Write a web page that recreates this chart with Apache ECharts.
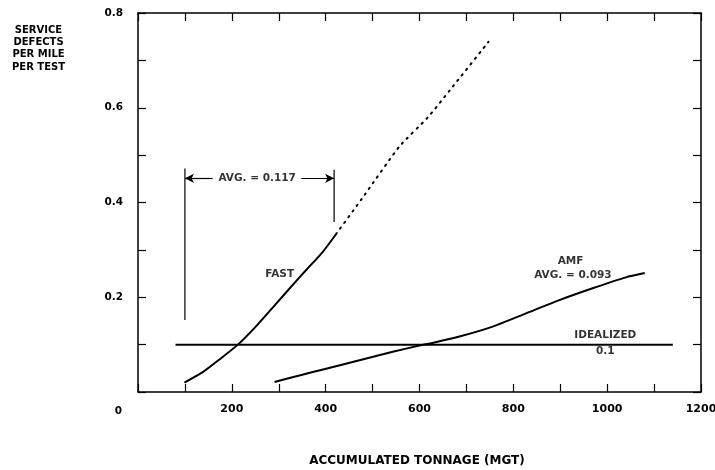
<!DOCTYPE html>
<html>
<head>
<meta charset="utf-8">
<script src="https://cdn.jsdelivr.net/npm/echarts@6/dist/echarts.min.js"></script>
<style>html,body{margin:0;padding:0;background:#fff}#c{width:715px;height:470px}</style>
</head>
<body>
<div id="c"></div>
<script>
// ---- data ----
const fastTonnage = [99, 138, 174, 213, 252, 295, 337, 359, 394, 422];
const fastDefects = [0.020, 0.042, 0.069, 0.100, 0.139, 0.187, 0.234, 0.258, 0.296, 0.333];
const fastProjTonnage = [422, 483, 557, 618, 664, 747];
const fastProjDefects = [0.333, 0.416, 0.518, 0.580, 0.636, 0.739];
const amfTonnage = [291, 344, 401, 472, 543, 600, 634, 685, 756, 827, 898, 969, 1040, 1080];
const amfDefects = [0.021, 0.035, 0.049, 0.067, 0.085, 0.098, 0.105, 0.117, 0.138, 0.166, 0.194, 0.219, 0.242, 0.251];
const idealTonnage = [80, 1140];
const idealDefects = [0.1, 0.1];
const bracketLeftX = [100, 100];
const bracketLeftY = [0.152, 0.472];
const bracketRightX = [418, 418];
const bracketRightY = [0.359, 0.469];
const arrowY = 0.451;
const arrowLeftX = [159, 100];
const arrowRightX = [348, 418];
const noteTexts = ['AVG. = 0.117', 'FAST', 'AMF', 'AVG. = 0.093', 'IDEALIZED', '0.1'];
const noteX = [254, 302, 922, 927, 996, 996];
const noteY = [0.451, 0.248, 0.276, 0.247, 0.119, 0.086];
const xTickLabels = ['200', '400', '600', '800', '1000', '1200'];
const yTickLabels = ['0.2', '0.4', '0.6', '0.8'];
const yTitle = 'SERVICE\nDEFECTS\nPER MILE\nPER TEST';
const xTitle = 'ACCUMULATED TONNAGE (MGT)';

const FONT = 'DejaVu Sans';
const zip = (a, b) => a.map((v, i) => [v, b[i]]);
const black = '#000';

const chart = echarts.init(document.getElementById('c'), null, {renderer: 'canvas'});
const axisCommon = () => ({
  axisLine: {show: true, onZero: false, lineStyle: {color: black, width: 1.5}},
  axisTick: {show: true, inside: true, length: 8, lineStyle: {color: black, width: 1.2}},
  splitLine: {show: false}
});
chart.setOption({
  animation: false,
  backgroundColor: '#fff',
  grid: {left: 138, right: 14, top: 13, bottom: 78, containLabel: false, outerBoundsMode: 'none'},
  xAxis: [
    Object.assign({
      type: 'value', min: 0, max: 1200, interval: 100, position: 'bottom',
      axisLabel: {
        margin: 12, fontFamily: FONT, fontWeight: 'bold', fontSize: 11, color: black,
        formatter: v => xTickLabels.includes(String(v)) ? String(v) : ''
      }
    }, axisCommon()),
    Object.assign({
      type: 'value', min: 0, max: 1200, interval: 100, position: 'top',
      axisLabel: {show: false}
    }, axisCommon())
  ],
  yAxis: [
    Object.assign({
      type: 'value', min: 0, max: 0.8, interval: 0.1, position: 'left',
      axisLabel: {
        margin: 15, fontFamily: FONT, fontWeight: 'bold', fontSize: 10.5, color: black,
        formatter: v => { const s = v.toFixed(1); return yTickLabels.includes(s) ? s : ''; }
      }
    }, axisCommon()),
    Object.assign({
      type: 'value', min: 0, max: 0.8, interval: 0.1, position: 'right',
      axisLabel: {show: false}
    }, axisCommon())
  ],
  graphic: [
    {type: 'text', left: 12, top: 24, style: {text: yTitle, font: 'bold 10px "DejaVu Sans"', fill: black, textAlign: 'center', lineHeight: 12.3, x: 26}},
    {type: 'text', x: 118.5, y: 411.5, style: {text: '0', font: 'bold 10.5px "DejaVu Sans"', fill: black, textAlign: 'center', textVerticalAlign: 'middle'}},
    {type: 'text', x: 417, y: 461, style: {text: xTitle, font: 'bold 12px "DejaVu Sans"', fill: black, textAlign: 'center', textVerticalAlign: 'middle'}}
  ],
  series: [
    {type: 'line', name: 'FAST', data: zip(fastTonnage, fastDefects), smooth: 0.2, symbol: 'none',
      lineStyle: {color: black, width: 2, join: 'round'}},
    {type: 'line', name: 'FAST projected', data: zip(fastProjTonnage, fastProjDefects), smooth: 0.2, symbol: 'none',
      lineStyle: {color: black, width: 2, type: [1.5, 5.5], cap: 'round'}},
    {type: 'line', name: 'AMF', data: zip(amfTonnage, amfDefects), smooth: 0.2, symbol: 'none',
      lineStyle: {color: black, width: 2, join: 'round'}},
    {type: 'line', name: 'IDEALIZED', data: zip(idealTonnage, idealDefects), symbol: 'none',
      lineStyle: {color: black, width: 2}},
    {type: 'line', name: 'bracketL', data: zip(bracketLeftX, bracketLeftY), symbol: 'none',
      lineStyle: {color: black, width: 1.2}},
    {type: 'line', name: 'bracketR', data: zip(bracketRightX, bracketRightY), symbol: 'none',
      lineStyle: {color: black, width: 1.2},
      markLine: {
        silent: true, symbol: ['none', 'arrow'], symbolSize: [7, 9], label: {show: false},
        lineStyle: {color: black, width: 1.2, type: 'solid'},
        data: [
          [{coord: [arrowLeftX[0], arrowY]}, {coord: [arrowLeftX[1], arrowY]}],
          [{coord: [arrowRightX[0], arrowY]}, {coord: [arrowRightX[1], arrowY]}]
        ]
      }},
    {type: 'scatter', name: 'notes', symbolSize: 0, silent: true,
      data: noteTexts.map((t, i) => ({value: [noteX[i], noteY[i]], name: t})),
      label: {show: true, position: 'inside', formatter: p => p.name,
        fontFamily: FONT, fontWeight: 'bold', fontSize: 10.5, color: black}}
  ]
});
</script>
</body>
</html>
